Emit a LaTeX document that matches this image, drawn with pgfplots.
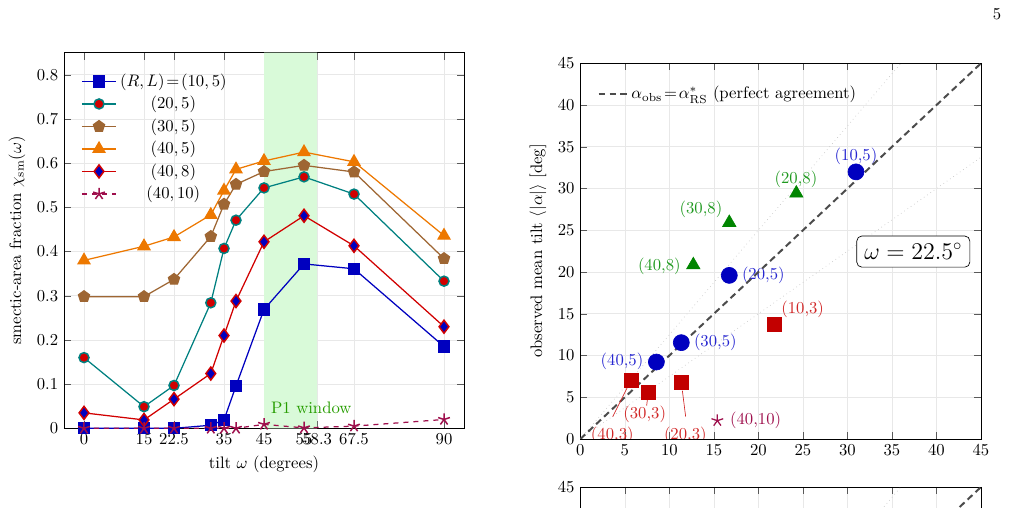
\documentclass[border=0pt]{standalone}
\usepackage{pgfplots}
\pgfplotsset{compat=1.18}

\definecolor{cBlue}{rgb}{0.0,0.0,0.75}
\definecolor{cTeal}{rgb}{0.0,0.5,0.5}
\definecolor{cRed}{rgb}{0.82,0.0,0.0}
\definecolor{cBrown}{rgb}{0.62,0.40,0.20}
\definecolor{cOrange}{rgb}{0.93,0.47,0.0}
\definecolor{cPurple}{rgb}{0.62,0.06,0.30}
\definecolor{cBand}{rgb}{0.85,0.98,0.85}
\definecolor{cLblBlue}{rgb}{0.15,0.15,0.82}
\definecolor{cGreen}{rgb}{0.0,0.52,0.0}
\definecolor{cLblGreen}{rgb}{0.12,0.60,0.12}
\definecolor{cSq}{rgb}{0.76,0.0,0.0}
\definecolor{cLblRed}{rgb}{0.82,0.15,0.15}

% smectic-area fraction vs tilt, one column per (R,L)
\pgfplotstableread{
w     r10l5  r20l5  r30l5  r40l5  r40l8  r40l10
0     0.000  0.160  0.298  0.380  0.035  0.000
15    0.000  0.049  0.298  0.412  0.019  0.000
22.5  0.000  0.097  0.337  0.433  0.066  0.000
31.7  0.007  0.284  0.434  0.483  0.124  0.000
35    0.019  0.407  0.507  0.538  0.210  0.000
38    0.096  0.471  0.552  0.586  0.288  0.000
45    0.269  0.544  0.581  0.605  0.422  0.009
55    0.372  0.569  0.595  0.625  0.481  0.001
67.5  0.361  0.530  0.580  0.603  0.413  0.005
90    0.185  0.333  0.384  0.436  0.230  0.020
}\chidata

% observed mean tilt vs predicted tilt at omega = 22.5
\pgfplotstableread{
x      y
30.96  32.00
16.73  19.60
11.34  11.54
8.54   9.22
}\rlfive
\pgfplotstableread{
x      y
24.26  29.43
16.73  25.92
12.69  20.85
}\rleight
\pgfplotstableread{
x      y
21.79  13.78
11.34  6.75
7.60   5.55
5.73   6.99
}\rlthree
\pgfplotstableread{
x      y
15.39  2.20
}\rlten

\pgfplotsset{
  every axis/.append style={
    scale only axis,
    grid=major,
    major grid style={gray!18},
    tick style={gray!70!black},
  },
}

\begin{document}
\begin{tikzpicture}
\useasboundingbox (0,0) rectangle (606pt,304.8pt);

\node[anchor=base] at (598.2pt,292.8pt) {5};

% ---------- left: smectic fraction ----------
\begin{axis}[
  at={(38.4pt,47.8pt)}, anchor=south west,
  width=240pt, height=225.4pt,
  xmin=-5, xmax=95, ymin=0, ymax=0.85,
  xtick={0,15,22.5,35,45,55,58.3,67.5,90},
  ytick={0,0.1,0.2,0.3,0.4,0.5,0.6,0.7,0.8},
  xlabel={tilt $\omega$ (degrees)},
  ylabel={smectic-area fraction $\chi_{\mathrm{sm}}(\omega)$},
  legend cell align=center,
  legend image code/.code={%
    \draw[mark repeat=2,mark phase=2,#1]
      plot coordinates {(0cm,0cm) (0.36cm,0cm) (0.72cm,0cm)};},
  legend style={at={(0.03,0.962)}, anchor=north west, draw=none, fill=none,
    row sep=0.5pt},
]
\addplot[fill=cBand, draw=none, forget plot]
  coordinates {(45,0) (45,0.85) (58.3,0.85) (58.3,0)} \closedcycle;
\node[text=cGreen!80!lime, anchor=west] at (axis cs:45.3,0.047) {P1 window};

\addplot[cBlue, line width=0.75pt, mark=square*, mark size=3.3pt,
  mark options={fill=cBlue, draw=cBlue}] table[x=w,y=r10l5] {\chidata};
\addlegendentry{$(R,L)\!=\!(10,5)$}
\addplot[cTeal, line width=0.75pt, mark=*, mark size=3pt,
  mark options={fill=cRed, draw=cTeal, line width=0.9pt}] table[x=w,y=r20l5] {\chidata};
\addlegendentry{$(20,5)$}
\addplot[cBrown, line width=0.75pt, mark=pentagon*, mark size=3.5pt,
  mark options={fill=cBrown, draw=cBrown}] table[x=w,y=r30l5] {\chidata};
\addlegendentry{$(30,5)$}
\addplot[cOrange, line width=0.75pt, mark=triangle*, mark size=4.1pt,
  mark options={fill=cOrange, draw=cOrange}] table[x=w,y=r40l5] {\chidata};
\addlegendentry{$(40,5)$}
\addplot[cRed, line width=0.75pt, mark=diamond*, mark size=3.9pt,
  mark options={fill=cBlue, draw=cRed, line width=0.9pt}] table[x=w,y=r40l8] {\chidata};
\addlegendentry{$(40,8)$}
\addplot[cPurple, line width=0.75pt, dashed, mark=star, mark size=3.7pt,
  mark options={solid, line width=0.9pt}] table[x=w,y=r40l10] {\chidata};
\addlegendentry{$(40,10)$}
\end{axis}

% ---------- right: observed vs predicted tilt ----------
\begin{axis}[
  at={(348.2pt,41.4pt)}, anchor=south west,
  width=240.4pt, height=225.4pt,
  xmin=0, xmax=45, ymin=0, ymax=45,
  xtick={0,5,...,45}, ytick={0,5,...,45},
  ylabel={observed mean tilt $\langle|\alpha|\rangle$ [deg]},
  legend style={at={(0.03,0.958)}, anchor=north west, draw=none, fill=none},
]
% annotations
\node[text=cLblBlue] at (axis cs:30.96,33.9) {(10,5)};
\node[text=cLblBlue] at (axis cs:20.55,19.57) {(20,5)};
\node[text=cLblBlue] at (axis cs:15.16,11.54) {(30,5)};
\node[text=cLblBlue] at (axis cs:4.68,9.35) {(40,5)};
\node[text=cLblGreen] at (axis cs:24.22,31.15) {(20,8)};
\node[text=cLblGreen] at (axis cs:13.55,27.52) {(30,8)};
\node[text=cLblGreen] at (axis cs:8.87,20.65) {(40,8)};
\node[text=cLblRed] at (axis cs:24.97,15.54) {(10,3)};
\node[text=cLblRed] at (axis cs:7.23,2.96) {(30,3)};
\node[text=cLblRed] at (axis cs:3.59,0.48) {(40,3)};
\node[text=cLblRed] at (axis cs:11.79,0.48) {(20,3)};
\node[text=cPurple] at (axis cs:19.69,2.28) {(40,10)};

\addplot[gray!45, dotted, forget plot] coordinates {(0,0) (36,45)};
\addplot[gray!45, dotted, forget plot] coordinates {(0,0) (45,33.75)};
\addplot[black!70, line width=1.2pt, dash pattern=on 4pt off 2.5pt]
  coordinates {(0,0) (45,45)};
\addlegendentry{$\alpha_{\mathrm{obs}}\!=\!\alpha^{*}_{\mathrm{RS}}$ (perfect agreement)}

\addplot[cLblRed, thin, forget plot] coordinates {(3.63,2.67) (5.28,6.19)};
\addplot[cLblRed, thin, forget plot] coordinates {(11.83,2.67) (11.46,5.79)};
\addplot[cLblRed, thin, forget plot] coordinates {(7.45,4.0) (7.6,5.3)};

\addplot[only marks, mark=*, mark size=4.8pt, cBlue, forget plot]
  table[x=x,y=y] {\rlfive};
\addplot[only marks, mark=triangle*, mark size=4.6pt, cGreen, forget plot]
  table[x=x,y=y] {\rleight};
\addplot[only marks, mark=square*, mark size=4.2pt, cSq, forget plot]
  table[x=x,y=y] {\rlthree};
\addplot[only marks, mark=star, mark size=3.7pt, cPurple, line width=0.75pt, forget plot]
  table[x=x,y=y] {\rlten};

\node[draw, rounded corners=3pt, fill=white, font=\Large, inner sep=4.5pt]
  at (axis cs:37.4,22.45) {$\omega = 22.5^\circ$};
\end{axis}

% ---------- next panel (top edge) ----------
\begin{axis}[
  at={(348.2pt,12.6pt)}, anchor=north west,
  width=240.4pt, height=225.4pt,
  xmin=0, xmax=45, ymin=0, ymax=45,
  xtick={0,5,...,45}, ytick={0,5,...,45},
  xticklabels={}, yticklabels={,,,,,,,,,45},
]
\addplot[gray!45, dotted] coordinates {(0,0) (36,45)};
\addplot[gray!45, dotted] coordinates {(0,0) (45,33.75)};
\addplot[black!70, line width=1.2pt, dash pattern=on 4pt off 2.5pt]
  coordinates {(0,0) (45,45)};
\end{axis}
\end{tikzpicture}
\end{document}
